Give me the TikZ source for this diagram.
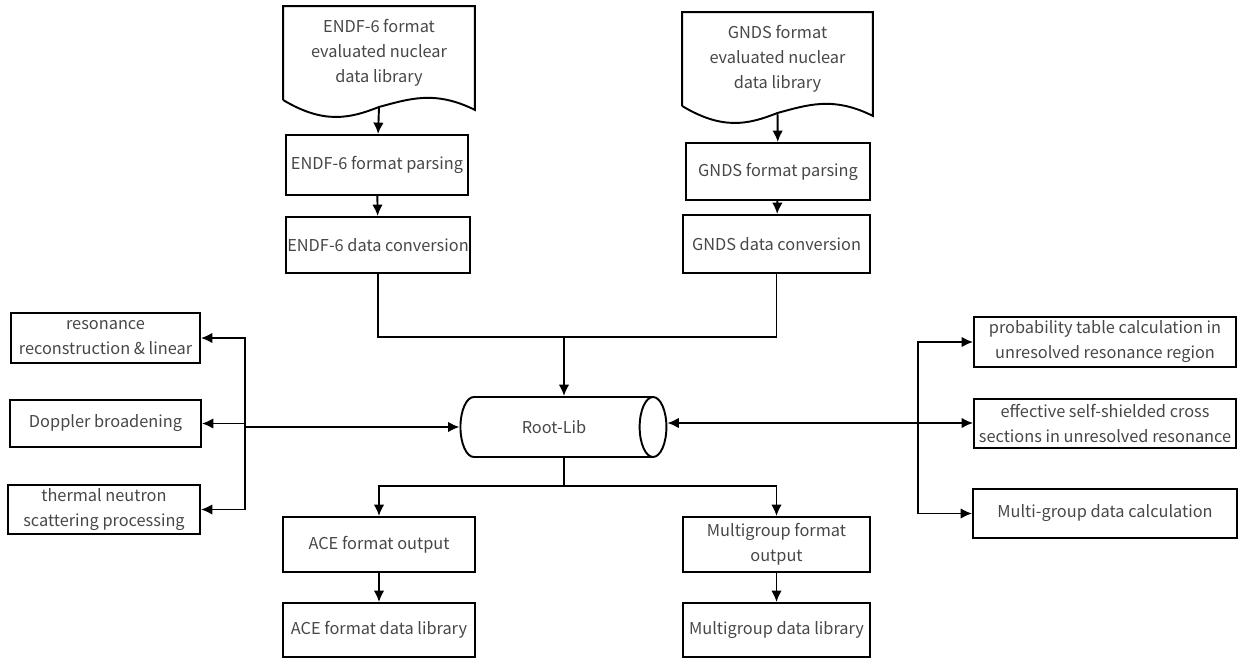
\documentclass[tikz,border=0pt]{standalone}
\usepackage{fontspec}
\setmainfont{Noto Sans CJK SC}
\usetikzlibrary{arrows.meta,shapes.geometric}
\definecolor{labelgray}{HTML}{474747}

\tikzset{
  boxline/.style={draw=black,line width=1.1pt},
  box/.style={boxline,align=center,text=labelgray,inner sep=1pt,
    font=\fontsize{9.3}{14.2}\selectfont},
  link/.style={line width=1.1pt,-{Latex[length=6.5pt,width=6pt]}},
  wire/.style={line width=1.1pt}
}
% document outline with a wavy lower edge
\newcommand{\docframe}[1]{%
  \draw[boxline] (#1.south west) -- (#1.north west) -- (#1.north east)
    -- ([yshift=-0.2cm]#1.south east)
    .. controls +(-40,-20) and +(30,-8) .. ([yshift=-0.14cm]#1.south)
    .. controls +(-30,12) and +(40,24) .. (#1.south west);}

\begin{document}
\begin{tikzpicture}[x=0.02cm,y=-0.02cm]
\useasboundingbox (0,0) rectangle (1250,662);

% inputs
\node[box,draw=none,minimum width=3.8cm,minimum height=1.84cm] (endfdoc) at (379,53)
  {ENDF-6 format\\evaluated nuclear\\data library};
\docframe{endfdoc}
\node[box,draw=none,minimum width=3.78cm,minimum height=1.84cm] (gndsdoc) at (777.5,59)
  {GNDS format\\evaluated nuclear\\data library};
\docframe{gndsdoc}

\node[box,minimum width=3.64cm,minimum height=1.2cm] (endfparse) at (377,165) {ENDF-6 format parsing};
\node[box,minimum width=3.68cm,minimum height=1.12cm] (endfconv) at (378,245) {ENDF-6 data conversion};
\node[box,minimum width=3.68cm,minimum height=1.14cm] (gndsparse) at (778,171.5) {GNDS format parsing};
\node[box,minimum width=3.74cm,minimum height=1.16cm] (gndsconv) at (776.5,244) {GNDS data conversion};

% central library
\node[box,cylinder,shape aspect=1.6,minimum width=1.2cm,minimum height=4.12cm] (rootlib) at (554,427) {Root-Lib};

% processing modules
\node[box,minimum width=3.78cm,minimum height=1cm] (reso) at (105.5,338) {resonance\\reconstruction \& linear};
\node[box,minimum width=3.82cm,minimum height=0.94cm] (doppler) at (105.5,423.5) {Doppler broadening};
\node[box,minimum width=3.84cm,minimum height=0.98cm] (thermal) at (104,509.5) {thermal neutron\\scattering processing};
\node[box,minimum width=5.24cm,minimum height=1cm] (probtab) at (1105,342) {probability table calculation in\\unresolved resonance region};
\node[box,minimum width=5.24cm,minimum height=0.98cm] (selfshield) at (1105,423.5) {effective self-shielded cross\\sections in unresolved resonance};
\node[box,minimum width=5.28cm,minimum height=0.98cm] (mgcalc) at (1105,513.5) {Multi-group data calculation};

% outputs
\node[box,minimum width=3.84cm,minimum height=1.1cm] (aceout) at (379,544.5) {ACE format output};
\node[box,minimum width=3.84cm,minimum height=1.08cm] (acelib) at (379,630) {ACE format data library};
\node[box,minimum width=3.74cm,minimum height=1.1cm] (mgout) at (776.5,544.5) {Multigroup format\\output};
\node[box,minimum width=3.74cm,minimum height=1.08cm] (mglib) at (776.5,630) {Multigroup data library};

\coordinate (merge) at (564,337);
\coordinate (split) at (564,486);
\coordinate (lsplit) at (245,427);
\coordinate (rsplit) at (918,423);

\draw[link] ([yshift=-0.14cm]endfdoc.south) -- (endfparse);
\draw[link] (endfparse) -- (endfconv);
\draw[link] ([yshift=-0.14cm]gndsdoc.south) -- (gndsparse);
\draw[link] (gndsparse) -- (gndsconv);
\draw[wire] (endfconv.south) |- (merge);
\draw[wire] (gndsconv.south) |- (merge);
\draw[link] (merge) -- (merge |- rootlib.north);

\draw[link] (lsplit) -- (rootlib.west);
\draw[link] (lsplit) |- (reso.east);
\draw[link] (lsplit) |- (doppler.east);
\draw[link] (lsplit) |- (thermal.east);

\draw[link] (rsplit) -- (rsplit -| rootlib.east);
\draw[link] (rsplit) |- (probtab.west);
\draw[link] (rsplit) -- (rsplit -| selfshield.west);
\draw[link] (rsplit) |- (mgcalc.west);

\draw[wire] (split |- rootlib.south) -- (split);
\draw[link] (split) -| (aceout.north);
\draw[link] (split) -| (mgout.north);
\draw[link] (aceout) -- (acelib);
\draw[link] (mgout) -- (mglib);
\end{tikzpicture}
\end{document}
